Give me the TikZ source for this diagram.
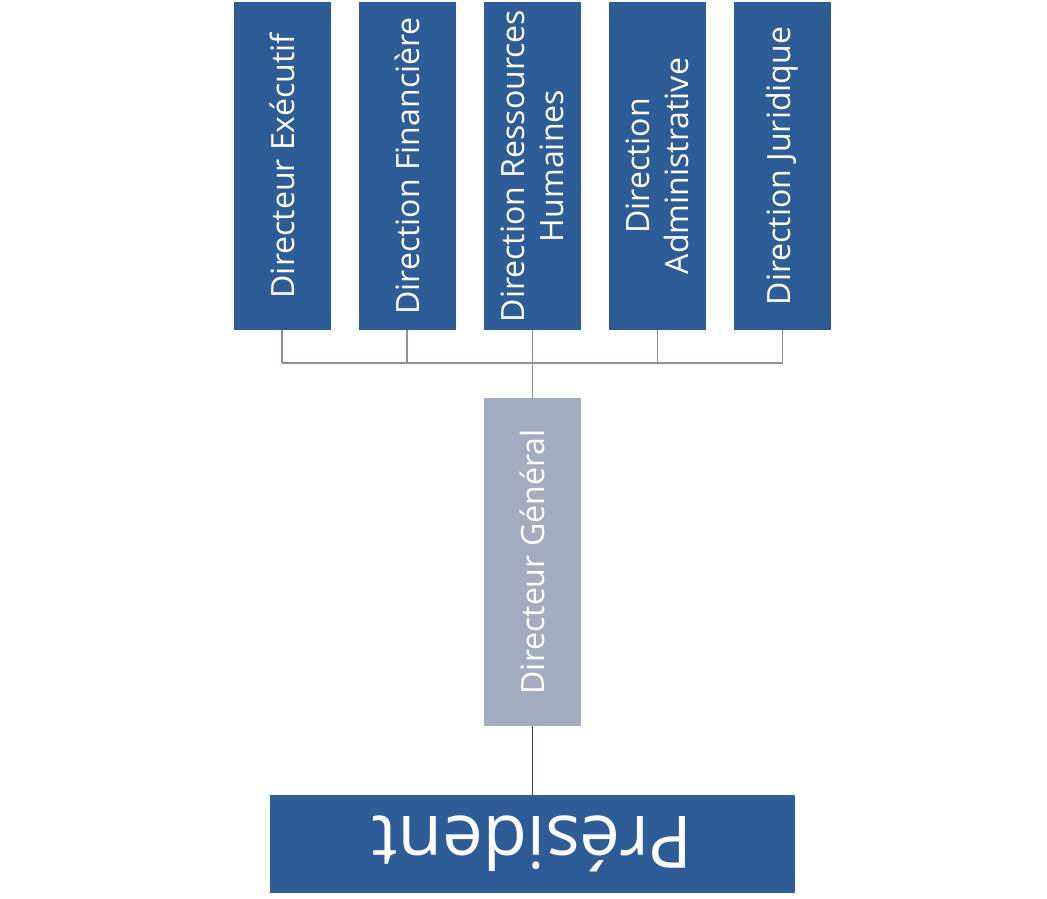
\documentclass[tikz,border=0pt]{standalone}
\usepackage{fontspec}
\setmainfont{Open Sans}
\usepackage{tikz}
\definecolor{boxblue}{HTML}{2E5C96}
\definecolor{dggray}{HTML}{A4ACBF}
\definecolor{busgray}{HTML}{8C909A}
\definecolor{linkblue}{HTML}{2A3F6E}

\begin{document}
\begin{tikzpicture}[x=0.025cm,y=-0.025cm,thin,
  dir node/.style={rectangle,fill=boxblue,text=white,rotate=90,minimum width=328*0.025cm,minimum height=97*0.025cm,inner sep=0pt,align=center,font=\fontsize{22.8}{27.5}\selectfont},
  dg node/.style={dir node,fill=dggray},
  pres node/.style={rectangle,fill=boxblue,text=white,rotate=180,minimum width=525*0.025cm,minimum height=98*0.025cm,inner sep=0pt,font=\fontsize{51.5}{60}\selectfont},
  bus/.style={draw=busgray,line width=1.2pt}]
  \useasboundingbox (0,0) rectangle (1047,899);

  \node[dir node] (1) at (282,166) {Directeur Exécutif};
  \node[dir node] (2) at (407,166) {Direction Financière};
  \node[dir node] (3) at (532.5,166) {Direction Ressources\\Humaines};
  \node[dir node] (4) at (657.5,166) {Direction\\Administrative};
  \node[dir node] (5) at (782.5,166) {Direction Juridique};
  \node[dg node] (dg) at (532.5,562) {Directeur Général};
  \node[pres node] (pres) at (532.5,844) {Président};

  \coordinate (busL) at (282,363);
  \coordinate (busR) at (782.5,363);
  \draw[bus] (busL) -- (busR);
  \foreach \i in {1,...,5}
    \draw[bus] (\i.west) -- (\i.west |- busL);
  \draw[bus] (dg.east) -- (dg.east |- busL);
  \draw[draw=linkblue,line width=1.2pt] (dg.west) -- (pres.south);
\end{tikzpicture}
\end{document}
